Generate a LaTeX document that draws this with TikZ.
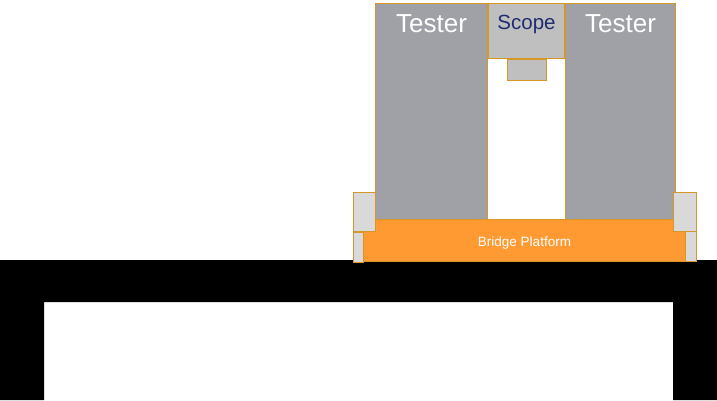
\documentclass[tikz,border=0pt]{standalone}
\usepackage{fontspec}
\setmainfont{Liberation Sans}
\definecolor{edge}{RGB}{214,150,40}
\definecolor{testergray}{RGB}{160,161,166}
\definecolor{scopegray}{RGB}{191,191,191}
\definecolor{sidegray}{RGB}{217,217,217}
\definecolor{platorange}{RGB}{255,154,51}
\definecolor{scopeblue}{RGB}{31,45,110}
\begin{document}
\begin{tikzpicture}[x=1pt, y=-1pt, thick,
    box/.style = {draw=edge, line width=1pt, inner sep=0pt, anchor=north west},
    tester/.style = {box, fill=testergray, minimum height=216pt},
    scopebox/.style = {box, fill=scopegray},
    side/.style = {box, fill=sidegray},
    big/.style = {text=white, font=\fontsize{26}{30}\selectfont, anchor=base}]
      \useasboundingbox (0,0) rectangle (717,400);
      % floor
      \fill[black] (0,260) -- (717,260) -- (717,400) -- (673,400) -- (673,302)
        -- (44,302) -- (44,400) -- (0,400) -- cycle;

      \node[tester, minimum width=112pt] (testerL) at (375,3) {};
      \node[scopebox, minimum width=76pt, minimum height=55pt] (scope) at (testerL.north east) {};
      \node[tester, minimum width=110pt] (testerR) at (scope.north east) {};
      \node[scopebox, anchor=north, minimum width=39pt, minimum height=21pt] (tip) at (scope.south) {};

      \node[box, fill=platorange, minimum width=322pt, minimum height=42pt] (platform) at (363,219) {};
      \node[side, minimum width=22pt, minimum height=39pt] (sideLU) at (353,192) {};
      \node[side, minimum width=10pt, minimum height=30pt] (sideLL) at (sideLU.south west) {};
      \node[side, minimum width=23pt, minimum height=39pt] (sideRU) at (673,192) {};
      \node[side, minimum width=11pt, minimum height=30pt] (sideRL) at (685,231) {};

      \node[big] (textL) at ([yshift=-29.5pt]testerL.north) {Tester};
      \node[big] (textR) at ([yshift=-29.5pt]testerR.north) {Tester};
      \node[anchor=base, text=scopeblue, font=\fontsize{20.5}{24}\selectfont] (textS) at ([yshift=-26.5pt]scope.north) {Scope};
      \node[anchor=base, text=white, font=\fontsize{13.5}{16}\selectfont] (textP) at ([yshift=-5.5pt]platform.center) {Bridge Platform};
\end{tikzpicture}
\end{document}
